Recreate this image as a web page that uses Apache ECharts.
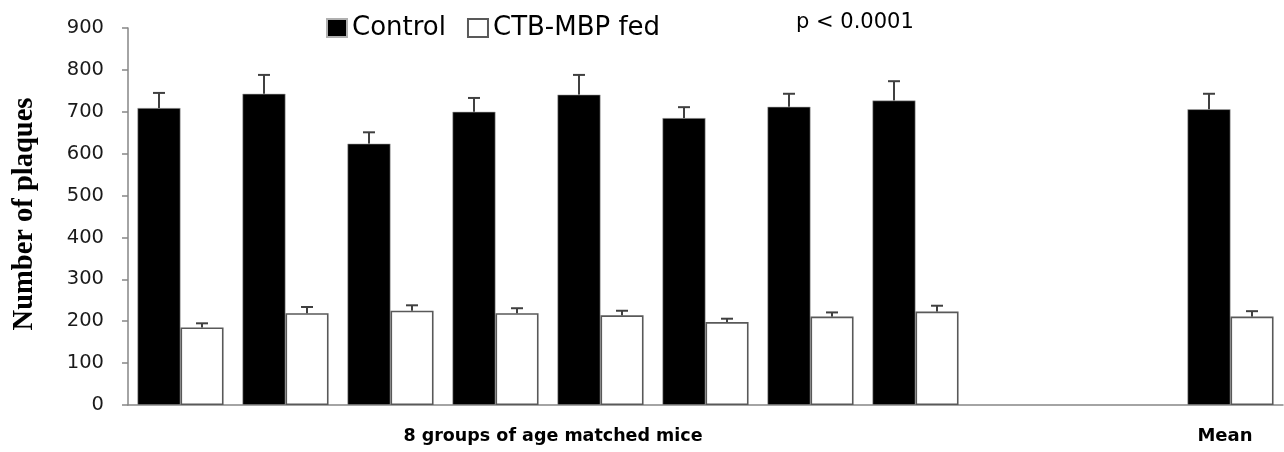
<!DOCTYPE html>
<html>
<head>
<meta charset="utf-8">
<script src="https://cdn.jsdelivr.net/npm/echarts@6/dist/echarts.min.js"></script>
<style>
html,body{margin:0;padding:0;background:#fff;}
#chart{width:1284px;height:452px;}
</style>
</head>
<body>
<div id="chart"></div>
<script>
const categories = ['G1','G2','G3','G4','G5','G6','G7','G8','','','Mean'];
const controlValues = [709, 743, 624, 700, 741, 685, 712, 727, '-', '-', 706];
const controlSem    = [36, 45, 27, 33, 47, 26, 31, 46, '-', '-', 37];
const ctbValues     = [185, 219, 225, 219, 214, 198, 211, 223, '-', '-', 211];
const ctbSem        = [10, 15, 13, 12, 11, 8, 10, 14, '-', '-', 13];
const yTicks = [0, 100, 200, 300, 400, 500, 600, 700, 800, 900];
const seriesNames = ['Control', 'CTB-MBP fed'];
const groupLabel = '8 groups of age matched mice';
const meanLabel = 'Mean';
const pText = 'p < 0.0001';
const yTitle = 'Number of plaques';

const CAT_GAP = 0.18;

function errData(vals, sem) {
  const out = [];
  vals.forEach((v, i) => {
    if (v !== '-' && sem[i] !== '-') out.push([i, v, v + sem[i]]);
  });
  return out;
}

function makeErrRender(side) {
  return function (params, api) {
    const x = api.value(0);
    const base = api.coord([x, api.value(1)]);
    const top = api.coord([x, api.value(2)]);
    const band = api.size([1, 0])[0];
    const bw = band * (1 - CAT_GAP) / 2;
    const cx = base[0] + side * bw / 2;
    const capW = 12;
    const st = { stroke: '#404040', lineWidth: 2 };
    return {
      type: 'group',
      children: [
        { type: 'line', shape: { x1: cx, y1: base[1], x2: cx, y2: top[1] }, style: st },
        { type: 'line', shape: { x1: cx - capW / 2, y1: top[1], x2: cx + capW / 2, y2: top[1] }, style: st }
      ]
    };
  };
}

const chart = echarts.init(document.getElementById('chart'));
chart.setOption({
  animation: false,
  backgroundColor: '#ffffff',
  grid: { left: 128, right: 1, top: 28, bottom: 47, containLabel: false, outerBoundsMode: 'none' },
  legend: {
    data: seriesNames,
    left: 326, top: 15,
    padding: 0,
    icon: 'rect',
    itemWidth: 20, itemHeight: 18,
    itemGap: 21,
    textStyle: { fontFamily: 'DejaVu Sans', fontSize: 26, color: '#000' }
  },
  xAxis: {
    type: 'category',
    data: categories,
    axisLine: { lineStyle: { color: '#868686', width: 1.5 } },
    axisTick: { show: false },
    axisLabel: { show: false },
    splitLine: { show: false }
  },
  yAxis: {
    type: 'value',
    min: yTicks[0], max: yTicks[yTicks.length - 1], interval: 100,
    axisLine: { show: true, lineStyle: { color: '#868686', width: 1.5 } },
    axisTick: { show: true, length: 6, lineStyle: { color: '#868686', width: 1.5 } },
    axisLabel: { margin: 24, fontFamily: 'DejaVu Sans', fontSize: 19.5, color: '#1a1a1a' },
    splitLine: { show: false }
  },
  series: [
    {
      name: seriesNames[0], type: 'bar', data: controlValues,
      barGap: '0%', barCategoryGap: (CAT_GAP * 100) + '%',
      itemStyle: { color: '#000000', borderColor: '#b0b0b0', borderWidth: 0.6 },
      z: 2
    },
    {
      name: seriesNames[1], type: 'bar', data: ctbValues,
      barGap: '0%', barCategoryGap: (CAT_GAP * 100) + '%',
      itemStyle: { color: '#ffffff', borderColor: '#595959', borderWidth: 1.6 },
      z: 2
    },
    {
      type: 'custom', data: errData(controlValues, controlSem),
      renderItem: makeErrRender(-1), z: 5, silent: true,
      encode: { x: 0, y: 2 }
    },
    {
      type: 'custom', data: errData(ctbValues, ctbSem),
      renderItem: makeErrRender(1), z: 5, silent: true,
      encode: { x: 0, y: 2 }
    }
  ],
  graphic: [
    { type: 'text', left: 796, top: 12,
      style: { text: pText, fontFamily: 'DejaVu Sans', fontSize: 21, fill: '#000' } },
    { type: 'text', x: 553, y: 436,
      style: { text: groupLabel, fontFamily: 'DejaVu Sans', fontWeight: 'bold', fontSize: 17.5, fill: '#000', align: 'center', verticalAlign: 'middle' } },
    { type: 'text', x: 1225, y: 436,
      style: { text: meanLabel, fontFamily: 'DejaVu Sans', fontWeight: 'bold', fontSize: 18, fill: '#000', align: 'center', verticalAlign: 'middle' } },
    { type: 'text', x: 25, y: 214, rotation: Math.PI / 2,
      style: { text: yTitle, fontFamily: 'Liberation Serif', fontWeight: 'bold', fontSize: 28.5, fill: '#000', align: 'center', verticalAlign: 'middle' } }
  ]
});
</script>
</body>
</html>
